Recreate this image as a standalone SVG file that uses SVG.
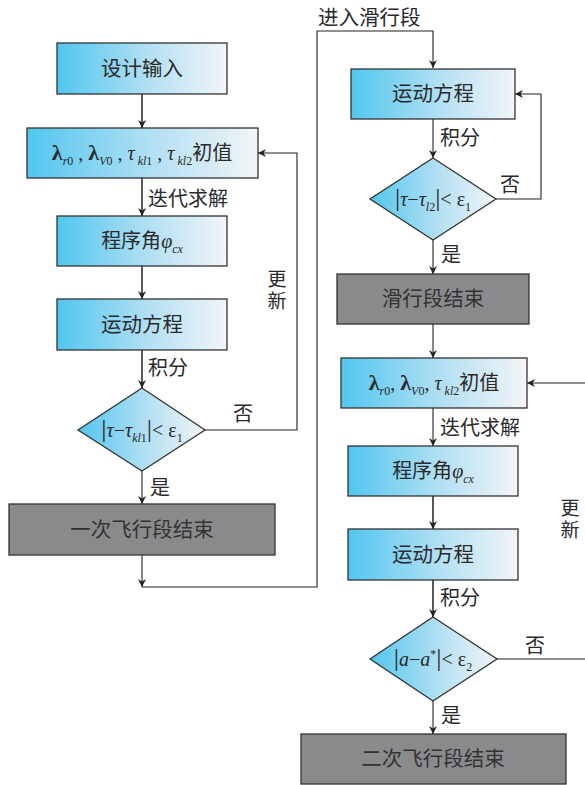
<svg xmlns="http://www.w3.org/2000/svg" width="585" height="785" viewBox="0 0 585 785">
<defs>
<linearGradient id="blue" x1="0" y1="0" x2="1" y2="0">
<stop offset="0" stop-color="#52c6ef"/>
<stop offset="0.55" stop-color="#b4e0f3"/>
<stop offset="1" stop-color="#f2f5f7"/>
</linearGradient>
<marker id="arr" viewBox="0 0 10 10" refX="10" refY="5" markerWidth="8" markerHeight="8" markerUnits="userSpaceOnUse" orient="auto">
<path d="M0,0 L10,5 L0,10 L3,5 Z" fill="#222"/>
</marker>
</defs>
<style>
.bx{fill:url(#blue);stroke:#333;stroke-width:1.3}
.gy{fill:#8a8a8d;stroke:#333;stroke-width:1.3}
.ln{fill:none;stroke:#222;stroke-width:1.5}
.lt{fill:none;stroke:#222;stroke-width:1.1}
.t{font-family:"Noto Sans CJK SC","Noto Sans",sans-serif;font-size:20.5px;fill:#2a2a2a;text-anchor:middle}
.lb{font-family:"Noto Sans CJK SC","Noto Sans",sans-serif;font-size:20px;fill:#2a2a2a}
.vt{font-family:"Noto Sans CJK SC","Noto Sans",sans-serif;font-size:19px;fill:#2a2a2a;writing-mode:tb;letter-spacing:3px}
.m{font-family:"Liberation Serif","Noto Sans CJK SC",serif;font-size:20px;fill:#2a2a2a;text-anchor:middle}
.b{font-weight:bold;font-size:22px}
.i{font-style:italic}
.s{font-size:12px}
.c{font-family:"Noto Sans CJK SC",sans-serif;font-size:20px}
.bar{font-size:26px}
</style>

<g id="connectors">
<line class="ln" x1="142" y1="94" x2="142" y2="128" marker-end="url(#arr)"/>
<line class="ln" x1="142" y1="178" x2="142" y2="216" marker-end="url(#arr)"/>
<line class="ln" x1="142" y1="266" x2="142" y2="299" marker-end="url(#arr)"/>
<line class="ln" x1="142" y1="350" x2="142" y2="388" marker-end="url(#arr)"/>
<line class="lt" x1="142" y1="471" x2="142" y2="504" marker-end="url(#arr)"/>
<line class="lt" x1="142" y1="555" x2="142" y2="587" marker-end="url(#arr)"/>
<polyline class="lt" points="205,430 297,430 297,153 258,153" marker-end="url(#arr)"/>
<polyline class="lt" points="142,587 317,587 317,31 433,31 433,68" marker-end="url(#arr)"/>
<line class="lt" x1="433" y1="119" x2="433" y2="158" marker-end="url(#arr)"/>
<polyline class="lt" points="496,199 541,199 541,94 515,94" marker-end="url(#arr)"/>
<line class="lt" x1="433" y1="240" x2="433" y2="274" marker-end="url(#arr)"/>
<line class="lt" x1="433" y1="324" x2="433" y2="358" marker-end="url(#arr)"/>
<line class="lt" x1="585" y1="383" x2="527" y2="383" marker-end="url(#arr)"/>
<line class="lt" x1="433" y1="408" x2="433" y2="446" marker-end="url(#arr)"/>
<line class="ln" x1="433" y1="496" x2="433" y2="529" marker-end="url(#arr)"/>
<line class="ln" x1="433" y1="580" x2="433" y2="617" marker-end="url(#arr)"/>
<line class="lt" x1="433" y1="701" x2="433" y2="734" marker-end="url(#arr)"/>
<line class="lt" x1="497" y1="659" x2="585" y2="659"/>
<text class="lb" x="148" y="206">迭代求解</text>
<text class="lb" x="148" y="375">积分</text>
<text class="lb" x="150" y="495">是</text>
<text class="lb" x="233" y="421">否</text>
<text class="vt" x="277" y="269">更新</text>
<text class="lb" x="318" y="25" style="font-size:20.5px">进入滑行段</text>
<text class="lb" x="440" y="145">积分</text>
<text class="lb" x="500" y="192">否</text>
<text class="lb" x="441" y="262">是</text>
<text class="lb" x="440" y="435">迭代求解</text>
<text class="lb" x="440" y="605">积分</text>
<text class="lb" x="525" y="653">否</text>
<text class="lb" x="441" y="723">是</text>
<text class="vt" x="570" y="498">更新</text>
</g>

<g id="n1"><rect class="bx" x="57" y="43" width="170" height="51"/><text class="t" x="142" y="76">设计输入</text></g>
<g id="n2"><rect class="bx" x="27" y="128" width="231" height="50"/><text class="m" x="142" y="160"><tspan class="b">λ</tspan><tspan class="s" dy="5"><tspan class="i">r</tspan>0</tspan><tspan dy="-5"> , </tspan><tspan class="b">λ</tspan><tspan class="s" dy="5"><tspan class="i">V</tspan>0</tspan><tspan dy="-5"> , </tspan><tspan class="i">τ</tspan><tspan class="s" dy="5"> <tspan class="i">kl</tspan>1</tspan><tspan dy="-5"> , </tspan><tspan class="i">τ</tspan><tspan class="s" dy="5"> <tspan class="i">kl</tspan>2</tspan><tspan class="c" dy="-5">初值</tspan></text></g>
<g id="n3"><rect class="bx" x="57" y="216" width="170" height="50"/><text class="m" x="142" y="248"><tspan class="c">程序角</tspan><tspan class="i">φ</tspan><tspan class="s i" dy="5">cx</tspan></text></g>
<g id="n4"><rect class="bx" x="57" y="299" width="170" height="51"/><text class="t" x="142" y="332">运动方程</text></g>
<g id="n5"><polygon class="bx" points="142,388 205,430 142,471 78,430"/><text class="m" x="142" y="437"><tspan class="bar">|</tspan><tspan class="i">τ</tspan>−<tspan class="i">τ</tspan><tspan class="s" dy="5"><tspan class="i">kl</tspan>1</tspan><tspan class="bar" dy="-5">|</tspan>&lt; ε<tspan class="s" dy="5">1</tspan></text></g>
<g id="n6"><rect class="gy" x="9" y="504" width="266" height="51"/><text class="t" x="142" y="537" style="fill:#333">一次飞行段结束</text></g>

<g id="n7"><rect class="bx" x="351" y="69" width="164" height="50"/><text class="t" x="433" y="101">运动方程</text></g>
<g id="n8"><polygon class="bx" points="433,158 496,199 433,240 370,199"/><text class="m" x="433" y="206"><tspan class="bar">|</tspan><tspan class="i">τ</tspan>−<tspan class="i">τ</tspan><tspan class="s i" dy="5">l</tspan><tspan class="s">2</tspan><tspan class="bar" dy="-5">|</tspan>&lt; ε<tspan class="s" dy="5">1</tspan></text></g>
<g id="n9"><rect class="gy" x="337" y="274" width="192" height="50"/><text class="t" x="433" y="306" style="fill:#333">滑行段结束</text></g>
<g id="n10"><rect class="bx" x="341" y="358" width="186" height="50"/><text class="m" x="434" y="390"><tspan class="b">λ</tspan><tspan class="s" dy="5"><tspan class="i">r</tspan>0</tspan><tspan dy="-5">, </tspan><tspan class="b">λ</tspan><tspan class="s" dy="5"><tspan class="i">V</tspan>0</tspan><tspan dy="-5">, </tspan><tspan class="i">τ</tspan><tspan class="s" dy="5"> <tspan class="i">kl</tspan>2</tspan><tspan class="c" dy="-5">初值</tspan></text></g>
<g id="n11"><rect class="bx" x="348" y="446" width="170" height="50"/><text class="m" x="433" y="478"><tspan class="c">程序角</tspan><tspan class="i">φ</tspan><tspan class="s i" dy="5">cx</tspan></text></g>
<g id="n12"><rect class="bx" x="348" y="529" width="170" height="51"/><text class="t" x="433" y="562">运动方程</text></g>
<g id="n13"><polygon class="bx" points="433,617 497,659 433,701 370,659"/><text class="m" x="433" y="666"><tspan class="bar">|</tspan><tspan class="i">a</tspan>−<tspan class="i">a</tspan><tspan class="s" dy="-8">*</tspan><tspan class="bar" dy="8">|</tspan>&lt; ε<tspan class="s" dy="5">2</tspan></text></g>
<g id="n14"><rect class="gy" x="301" y="734" width="265" height="50"/><text class="t" x="433" y="766" style="fill:#333">二次飞行段结束</text></g>
</svg>
